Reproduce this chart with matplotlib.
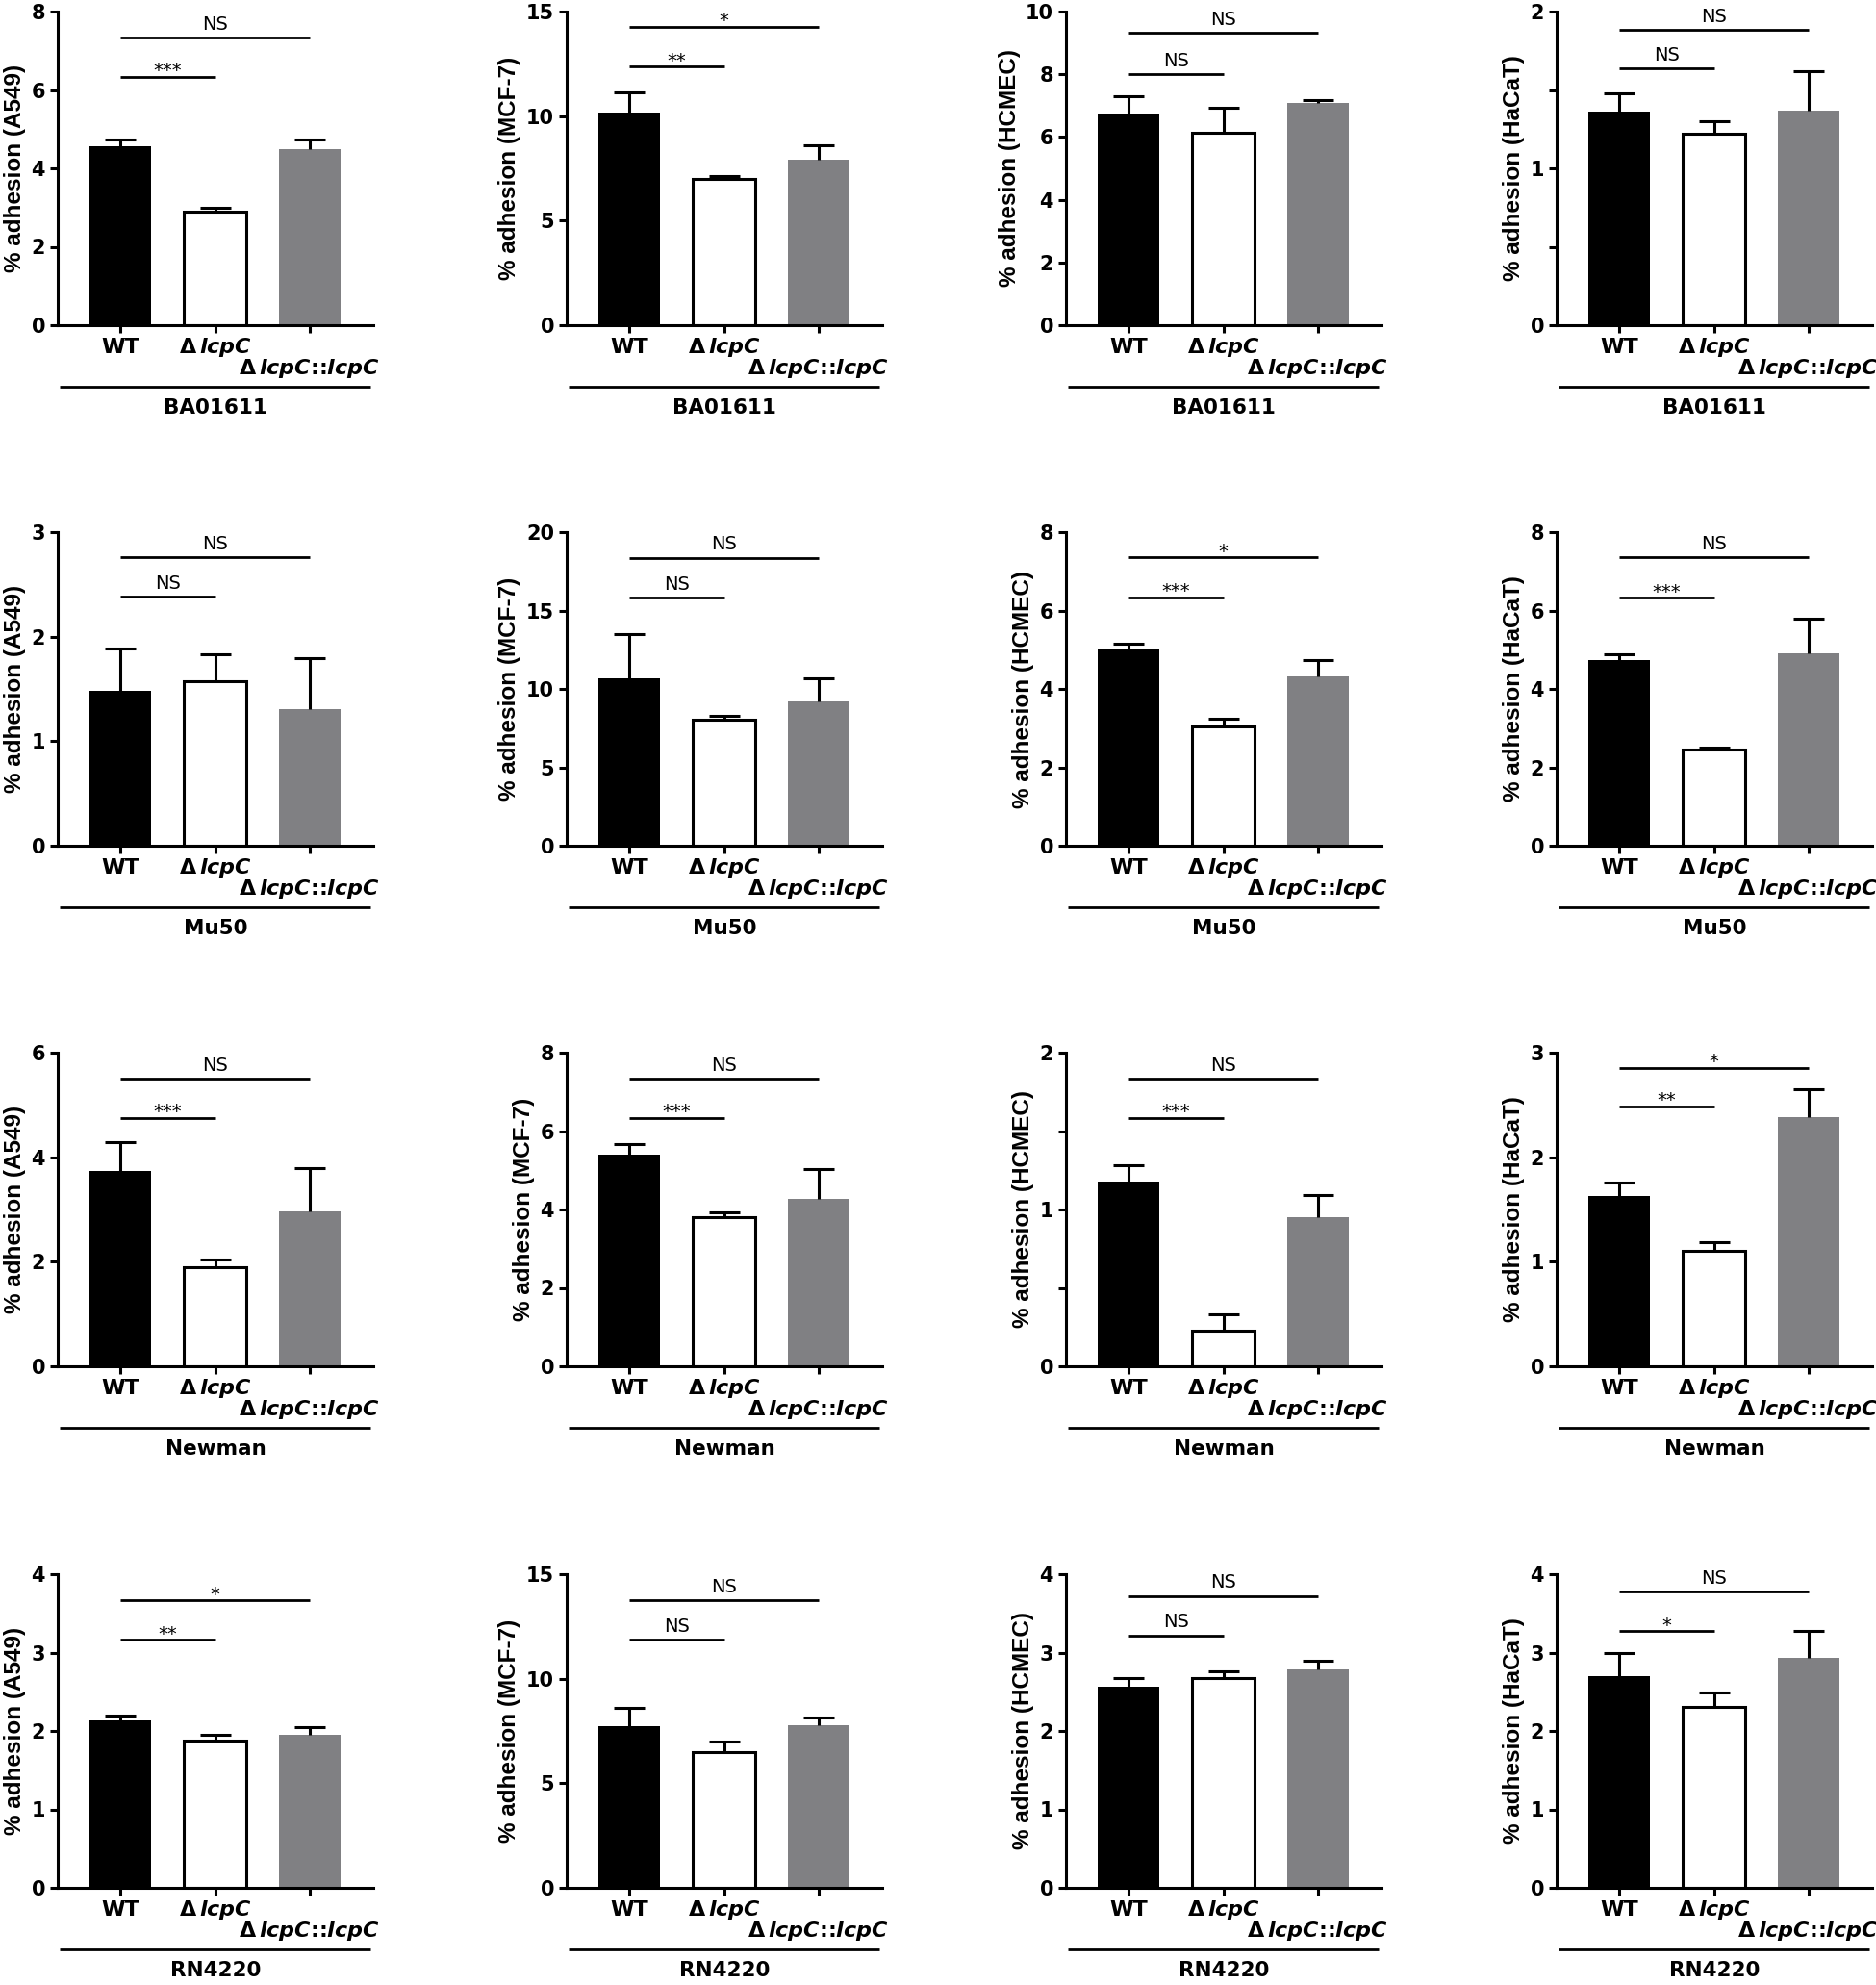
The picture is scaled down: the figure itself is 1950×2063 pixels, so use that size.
import matplotlib
matplotlib.use('Agg')
import matplotlib.pyplot as plt
import numpy as np

plt.rcParams['mathtext.fontset'] = 'custom'
plt.rcParams['mathtext.it'] = 'DejaVu Sans:italic:bold'
plt.rcParams['mathtext.rm'] = 'DejaVu Sans:bold'
plt.rcParams['mathtext.bf'] = 'DejaVu Sans:bold'

# ---------------- data ----------------
strains = ['BA01611', 'Mu50', 'Newman', 'RN4220']
cells = ['A549', 'MCF-7', 'HCMEC', 'HaCaT']
groups = ['WT', r'Δ$\,\mathit{lcpC}$', r'Δ$\,\mathit{lcpC}$::$\mathit{lcpC}$']

# mean % adhesion, rows = cells (A549, MCF-7, HCMEC, HaCaT), cols = groups
mean_BA01611 = [[4.57, 2.89, 4.48], [10.16, 7.00, 7.91], [6.75, 6.13, 7.10], [1.36, 1.22, 1.37]]
sem_BA01611 = [[0.16, 0.11, 0.25], [0.99, 0.12, 0.69], [0.55, 0.81, 0.07], [0.12, 0.08, 0.25]]
mean_Mu50 = [[1.48, 1.57, 1.31], [10.65, 8.04, 9.18], [5.01, 3.04, 4.33], [4.73, 2.45, 4.92]]
sem_Mu50 = [[0.41, 0.26, 0.48], [2.85, 0.26, 1.52], [0.14, 0.19, 0.40], [0.15, 0.06, 0.86]]
mean_Newman = [[3.73, 1.89, 2.96], [5.40, 3.80, 4.28], [1.18, 0.23, 0.95], [1.63, 1.10, 2.38]]
sem_Newman = [[0.55, 0.15, 0.83], [0.26, 0.13, 0.75], [0.10, 0.10, 0.14], [0.13, 0.09, 0.27]]
mean_RN4220 = [[2.13, 1.88, 1.95], [7.73, 6.51, 7.79], [2.57, 2.68, 2.79], [2.70, 2.31, 2.93]]
sem_RN4220 = [[0.07, 0.07, 0.10], [0.87, 0.49, 0.34], [0.11, 0.08, 0.10], [0.29, 0.18, 0.35]]

means = [mean_BA01611, mean_Mu50, mean_Newman, mean_RN4220]
sems = [sem_BA01611, sem_Mu50, sem_Newman, sem_RN4220]

# y-axis maximum and tick step per panel
ymax = [[8, 15, 10, 2], [3, 20, 8, 8], [6, 8, 2, 3], [4, 15, 4, 4]]
ystep = [[2, 5, 2, 0.5], [1, 5, 2, 2], [2, 2, 0.5, 1], [1, 5, 1, 1]]

# significance: (WT vs ΔlcpC label, height), (WT vs complemented label, height)
sig_short = [[('***', 6.34), ('**', 12.37), ('NS', 8.01), ('NS', 1.635)],
             [('NS', 2.38), ('NS', 15.8), ('***', 6.34), ('***', 6.32)],
             [('***', 4.75), ('***', 6.34), ('***', 1.585), ('**', 2.486)],
             [('**', 3.163), ('NS', 11.86), ('NS', 3.22), ('*', 3.27)]]
sig_long = [[('NS', 7.33), ('*', 14.28), ('NS', 9.31), ('NS', 1.884)],
            [('NS', 2.76), ('NS', 18.36), ('*', 7.35), ('NS', 7.35)],
            [('NS', 5.50), ('NS', 7.34), ('NS', 1.834), ('*', 2.856)],
            [('*', 3.665), ('NS', 13.75), ('NS', 3.72), ('NS', 3.776)]]

# ---------------- figure ----------------
FW, FH = 1950, 2063
fig = plt.figure(figsize=(FW / 100, FH / 100), dpi=100)
col_left = [60, 589, 1108, 1618]
row_bottom = [338, 879, 1420, 1962]
AW, AH = 328, 326

bar_colors = ['black', 'white', '#808083']
edge_colors = ['black', 'black', '#808083']
edge_widths = [0, 2.2, 0]
TXT = 'DejaVu Sans'


def sig(ax, x1, label, y):
    ax.plot([0, x1], [y, y], color='black', lw=2.0, clip_on=False, solid_capstyle='butt')
    off = 6.0 if label == 'NS' else 0.3
    ax.annotate(label, xy=(x1 / 2, y), xytext=(0, off), textcoords='offset points',
                ha='center', va='baseline', fontsize=14, family=TXT, annotation_clip=False)


for r, strain in enumerate(strains):
    for c, cell in enumerate(cells):
        ax = fig.add_axes([col_left[c] / FW, 1 - row_bottom[r] / FH, AW / FW, AH / FH])
        m = np.array(means[r][c])
        e = np.array(sems[r][c])
        x = np.arange(3)
        ax.bar(x, m, width=0.655, color=bar_colors, edgecolor=edge_colors,
               linewidth=edge_widths, zorder=2)
        eb = ax.errorbar(x, m, yerr=[np.zeros(3), e], fmt='none', ecolor='black',
                         elinewidth=2.2, capsize=11.5, capthick=2.2, zorder=3)
        # hide the lower caps (error bars drawn upward only)
        if len(eb[1]) == 2:
            eb[1][0].set_visible(False)
        ax.set_xlim(-0.663, 2.673)
        ax.set_ylim(0, ymax[r][c])
        for s in ['top', 'right']:
            ax.spines[s].set_visible(False)
        for s in ['left', 'bottom']:
            ax.spines[s].set_linewidth(2.2)
        ax.tick_params(direction='out', length=5.8, width=2.2)
        ticks = np.arange(0, ymax[r][c] + 1e-9, ystep[r][c])
        labels = [('%g' % t) if abs(t - round(t)) < 1e-9 else '' for t in ticks]
        ax.set_yticks(ticks)
        ax.set_yticklabels(labels, fontsize=15, fontweight='bold', family=TXT)
        ax.set_xticks(x)
        ax.set_xticklabels([])
        ax.set_ylabel('% adhesion (' + cell + ')', fontsize=17.5, fontweight='bold',
                      family='Liberation Sans', labelpad=4)
        tr = ax.get_xaxis_transform()
        for i, g in enumerate(groups):
            yy = -23 / AH if i < 2 else -45 / AH
            ax.text(i, yy, g, transform=tr, ha='center', va='center', fontsize=16,
                    fontweight='bold', family=TXT)
        ax.plot([0.006, 0.992], [-64 / AH, -64 / AH], transform=ax.transAxes,
                color='black', lw=2.0, clip_on=False, solid_capstyle='butt')
        ax.text(0.5, -86 / AH, strain, transform=ax.transAxes, ha='center', va='center',
                fontsize=15.5, fontweight='bold', family=TXT)
        sig(ax, 1, *sig_short[r][c])
        sig(ax, 2, *sig_long[r][c])

fig.savefig('out.png', dpi=100)
